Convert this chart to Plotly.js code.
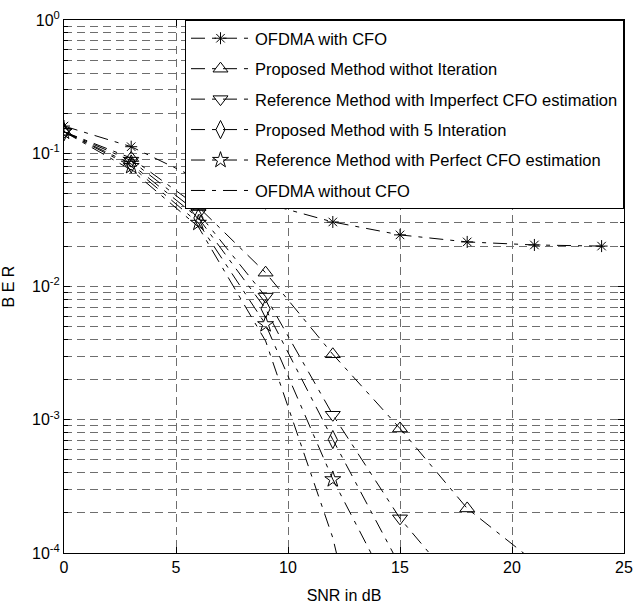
<!DOCTYPE html>
<html>
<head>
<meta charset="utf-8">
<script src="https://cdn.plot.ly/plotly-3.0.1.min.js"></script>
<style>html,body{margin:0;padding:0;background:#fff;}#chart{width:634px;height:612px;}</style>
</head>
<body>
<div id="chart"></div>
<script>
// SNR points (dB)
var snr = [0, 3, 6, 9, 12, 15, 18, 21, 24];

// BER series
var ofdmaWithCFO      = [0.16, 0.112, 0.064, 0.042, 0.0305, 0.0244, 0.0216, 0.0205, 0.0201];
var proposedNoIter    = [0.145, 0.092, 0.0395, 0.0127, 0.0031, 0.00086, 0.000216, 0.000086];
var refImperfectCFO   = [0.145, 0.088, 0.0356, 0.0084, 0.00109, 0.000182, 0.000046];
var proposed5Iter     = [0.145, 0.083, 0.0327, 0.0068, 0.00071, 0.00008];
var refPerfectCFO     = [0.145, 0.080, 0.030, 0.0052, 0.000357, 0.000038];
var ofdmaNoCFO        = [0.145, 0.075, 0.028, 0.0039, 0.00013, 0.000001];

var seriesNames = [
  'OFDMA with CFO',
  'Proposed Method withot Iteration',
  'Reference Method with Imperfect CFO estimation',
  'Proposed Method with 5 Interation',
  'Reference Method with Perfect CFO estimation',
  'OFDMA without CFO'
];

var yTickVals = [1e-4, 1e-3, 1e-2, 1e-1, 1];
var yTickText = ['10<sup>-4</sup>', '10<sup>-3</sup>', '10<sup>-2</sup>', '10<sup>-1</sup>', '10<sup>0</sup>'];
var xTickVals = [0, 5, 10, 15, 20, 25];

var minorVals = [];
for (var e = -4; e < 0; e++) {
  for (var m = 2; m <= 9; m++) minorVals.push(m * Math.pow(10, e));
}

var seriesY = [ofdmaWithCFO, proposedNoIter, refImperfectCFO, proposed5Iter, refPerfectCFO, ofdmaNoCFO];
var symbols = ['asterisk-open', 'triangle-up-open', 'triangle-down-open', 'diamond-tall-open', 'star-open', null];
var sizes = [10, 13, 13, 13, 12, 0];
var lineDash = '14px,7px,4px,7px';

var traces = seriesY.map(function (ys, i) {
  var t = {
    x: snr.slice(0, ys.length),
    y: ys,
    name: seriesNames[i],
    legendgroup: 'g' + i,
    type: 'scatter',
    mode: symbols[i] ? 'lines+markers' : 'lines',
    line: {color: '#000', width: 1, dash: lineDash},
    cliponaxis: true
  };
  if (symbols[i]) {
    t.marker = {symbol: symbols[i], size: sizes[i], color: '#000', line: {color: '#000', width: 1}};
  }
  return t;
});

var gridDash = '8px,5px';
var gridColor = '#6e6e6e';

var layout = {
  width: 634,
  height: 612,
  margin: {l: 64, r: 10, t: 20, b: 59},
  paper_bgcolor: '#fff',
  plot_bgcolor: '#fff',
  font: {family: 'Liberation Sans, Arial, sans-serif', size: 16, color: '#000'},
  showlegend: true,
  legend: {
    x: 1, xanchor: 'right', y: 1, yanchor: 'top',
    bgcolor: '#fff', bordercolor: '#000', borderwidth: 1,
    font: {size: 16.5, color: '#000'},
    tracegroupgap: 6,
    itemwidth: 59
  },
  xaxis: {
    range: [0, 25],
    tickmode: 'array', tickvals: xTickVals,
    ticks: 'inside', ticklen: 6, tickcolor: '#000',
    showline: true, linecolor: '#000', linewidth: 1, mirror: 'ticks',
    showgrid: true, gridcolor: gridColor, griddash: gridDash, gridwidth: 1,
    zeroline: false,
    tickfont: {size: 16},
    title: {text: 'SNR in dB', font: {size: 16}, standoff: 14}
  },
  yaxis: {
    type: 'log',
    range: [-4, 0],
    tickmode: 'array', tickvals: yTickVals, ticktext: yTickText,
    ticks: 'inside', ticklen: 6, tickcolor: '#000',
    showline: true, linecolor: '#000', linewidth: 1, mirror: 'ticks',
    showgrid: true, gridcolor: gridColor, griddash: gridDash, gridwidth: 1,
    zeroline: false,
    tickfont: {size: 16},
    minor: {
      tickmode: 'array', tickvals: minorVals,
      ticks: 'inside', ticklen: 4, tickcolor: '#000',
      showgrid: true, gridcolor: gridColor, griddash: gridDash, gridwidth: 1
    },
    title: {text: 'B E R', font: {size: 16}, standoff: 14}
  }
};

Plotly.newPlot('chart', traces, layout, {displayModeBar: false, staticPlot: true});
</script>
</body>
</html>
